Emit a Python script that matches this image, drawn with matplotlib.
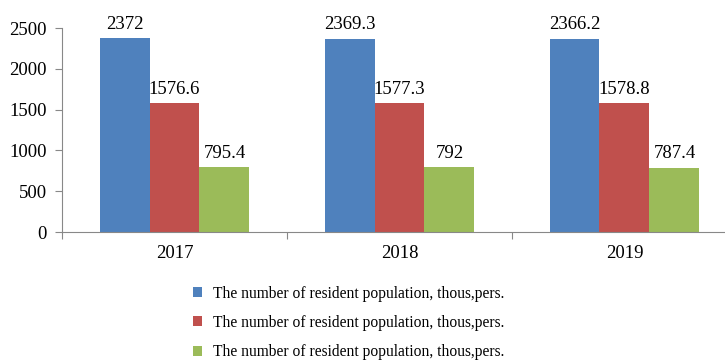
import numpy as np
import matplotlib.pyplot as plt

# resident population by year, three series
years = ['2017', '2018', '2019']
series_a = [2372, 2369.3, 2366.2]
series_b = [1576.6, 1577.3, 1578.8]
series_c = [795.4, 792, 787.4]
labels = ['The number of resident population, thous,pers.'] * 3
colors = ['#4F81BD', '#C0504D', '#9BBB59']

plt.rcParams['font.family'] = ['Liberation Serif', 'DejaVu Serif']

fig = plt.figure(figsize=(7.25, 3.64), dpi=100)
ax = fig.add_axes([0.0855, 0.3626, 0.931, 0.5604])

x = np.arange(len(years))
w = 0.222
bars = []
for k, (vals, c, lab) in enumerate(zip([series_a, series_b, series_c], colors, labels)):
    b = ax.bar(x + (k - 1) * w, vals, w, color=c, label=lab)
    bars.append(b)
    for xi, v in zip(x + (k - 1) * w, vals):
        ax.annotate(f'{v:g}', (xi, v), xytext=(0, 4), textcoords='offset points',
                    ha='center', va='bottom', fontsize=13.5)

ax.set_xlim(-0.5, len(years) - 0.5)
ax.set_ylim(0, 2500)
ax.set_yticks([0, 500, 1000, 1500, 2000, 2500])

# category boundaries get the ticks, the year names sit between them
ax.set_xticks(np.arange(len(years) + 1) - 0.5)
ax.set_xticklabels([])
ax.set_xticks(x, minor=True)
ax.set_xticklabels(years, minor=True)
ax.tick_params(axis='x', which='major', length=5, color='#888888')
ax.tick_params(axis='x', which='minor', length=0, pad=9, labelsize=13.5)
ax.tick_params(axis='y', length=5, color='#888888', pad=6, labelsize=13.5)

for s in ['top', 'right']:
    ax.spines[s].set_visible(False)
for s in ['left', 'bottom']:
    ax.spines[s].set_color('#888888')

fig.legend(handles=bars, loc='center', bbox_to_anchor=(0.481, 0.113),
           frameon=False, fontsize=11.2, handlelength=0.6, handleheight=0.6,
           handletextpad=0.7, labelspacing=0.85)

fig.savefig('out.png', dpi=100)
